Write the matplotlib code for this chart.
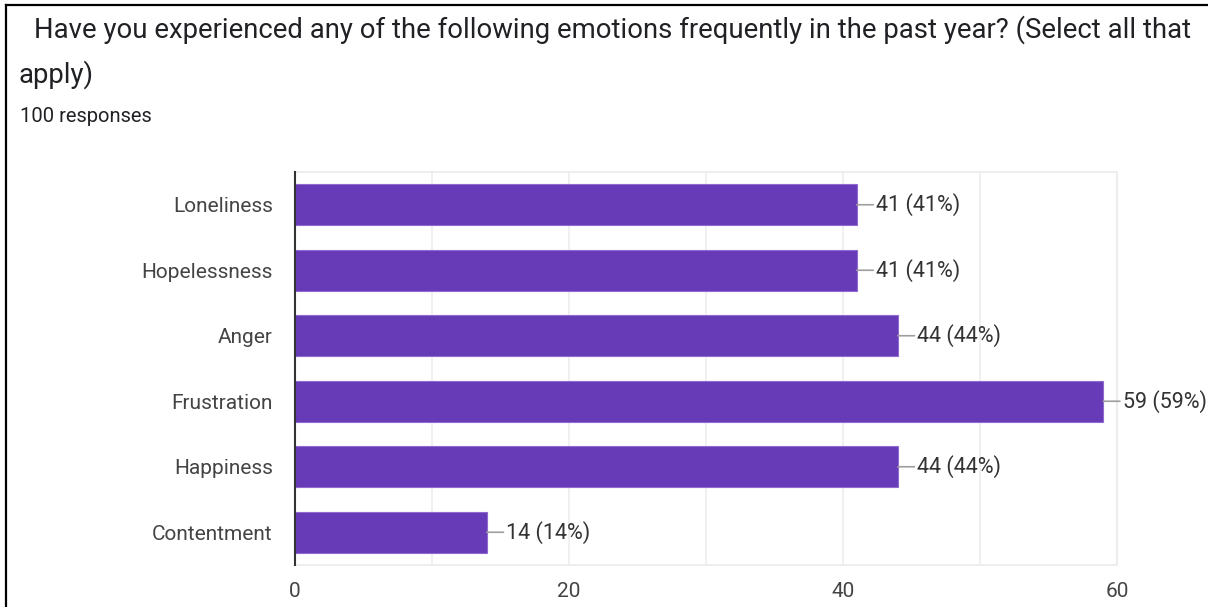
import numpy as np
import matplotlib.pyplot as plt
from matplotlib.lines import Line2D

plt.rcParams['font.family'] = ['Roboto', 'DejaVu Sans']

# Survey data
emotions = ['Loneliness', 'Hopelessness', 'Anger', 'Frustration', 'Happiness', 'Contentment']
counts   = [41, 41, 44, 59, 44, 14]
total    = 100
xticks   = [0, 20, 40, 60]

W, H = 1208, 607
fig = plt.figure(figsize=(W/100, H/100), dpi=100)
fig.patch.set_facecolor('white')

# Frame of the screenshot (top and left edges only)
fig.add_artist(Line2D([6/W, 1], [1-5/H, 1-5/H], color='black', lw=1.6))
fig.add_artist(Line2D([6/W, 6/W], [0, 1-5/H], color='black', lw=1.6))

fig.text(34/W, 1-30/H, 'Have you experienced any of the following emotions frequently in the past year? (Select all that',
         fontsize=19.85, color='#202124', va='center', ha='left')
fig.text(19/W, 1-75/H, 'apply)', fontsize=19.85, color='#202124', va='center', ha='left')
fig.text(20/W, 1-117/H, '100 responses', fontsize=14.5, color='#202124', va='center', ha='left')

ax = fig.add_axes([295/W, 1-565/H, (1117-295)/W, (565-172)/H])
y = np.arange(len(emotions))
ax.barh(y, counts, height=0.62, color='#673ab7', edgecolor='#8e6bd0', lw=0.8, zorder=3)

for yi, c in zip(y, counts):
    ax.annotate('%d (%d%%)' % (c, round(100*c/total)), xy=(c, yi), xytext=(14, 0),
                textcoords='offset points', va='center', ha='left', fontsize=15.5, color='#333333',
                annotation_clip=False,
                arrowprops=dict(arrowstyle='-', color='#9e9e9e', lw=1.2, shrinkA=0, shrinkB=0))

ax.set_xlim(0, 60)
ax.set_ylim(len(emotions)-0.5, -0.5)
ax.set_xticks(xticks)
ax.set_xticks(np.arange(0, 61, 10), minor=True)
ax.set_yticks(y)
ax.set_yticklabels(emotions)
ax.tick_params(axis='both', which='both', length=0, labelsize=15, labelcolor='#444444')
ax.tick_params(axis='x', pad=12)
ax.tick_params(axis='y', pad=16)
ax.grid(axis='x', which='both', color='#ededed', lw=1.2, zorder=0)
for s in ['top', 'right', 'bottom']:
    ax.spines[s].set_color('#ebebeb')
    ax.spines[s].set_linewidth(1.2)
ax.spines['left'].set_color('#333333')
ax.spines['left'].set_linewidth(1.5)
ax.spines['left'].set_zorder(4)

fig.savefig('out.png', dpi=100)
